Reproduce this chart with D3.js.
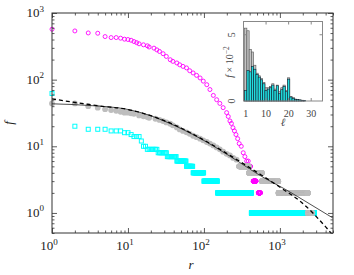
<!DOCTYPE html>
<html><head><meta charset="utf-8">
<script src="https://cdn.jsdelivr.net/npm/d3@7/dist/d3.min.js"></script>
<style>body{margin:0;background:#fff;}svg{display:block;}</style>
</head><body>
<svg id="c" width="354" height="275"></svg>
<script>
// ---------- DATA ----------
// magenta (open circles): individual ranks
const magentaR = [1,2,3,4,5,6,7,8,9,10,11,12,13,14,16,18,19,22,24,26,29,32,36,39,44,48,53,59,65,72,80,89,98,109,120,133,147,162,179,199,209,220,230,241,252,264,278,291,310,329,346,365,383];
const magentaF = [571,538,502,497,443,428,428,419,405,400,390,373,359,345,333,322,309,297,280,265,245,223,199,188,178,167,158,150,136,126,116,106,95,84,71,58,50,44,38,32,28,24,22,19,17,15,13,11,10,8,7,6,6];
// magenta plateaus (same f over a range of ranks)
const magentaPlatF = [5,4,3,2];
const magentaPlatFrom = [390,410,445,520];
const magentaPlatTo = [408,440,485,555];

// gray (filled circles)
const grayR = [1,2,3,4,5,6,7,8,9,10,11,12,14,16,18,19,23,26,29,32,36,39,44,48,53,59,65,72,80,89,98,109,120,133,147,162,179,199,220,243,269];
const grayF = [44,44,40,38,36,35,34,33,32,32,31.3,30.8,29.0,28.2,27.4,26.8,25.9,24.9,23.9,22.8,21.8,20.6,19.2,17.9,17.0,16.2,15.4,14.4,13.7,13.0,12.3,11.6,11.0,10.3,9.6,9.0,8.3,7.7,7.3,6.7,6.3];
const grayPlatF = [5,4,3,2,1];
const grayPlatFrom = [290,391,580,960,2340];
const grayPlatTo = [390,579,950,2330,2640];

// cyan (open squares)
const cyanR = [1,2,3,4,5,6,7,8,9,10,11,12,13,14,15];
const cyanF = [62,20,18,18,18,17,17,17,16,16,15,14,14,14,12];
const cyanPlatF = [10,9,8,7,6,5,4,3,2,1];
const cyanPlatFrom = [16,18,25,33,44,59,72,100,151,421];
const cyanPlatTo = [17,24,32,43,58,71,99,150,420,2800];

// fitted curves
const solidR = [1,3.16,10,19.5,35.7,88.5,220,598,1163,2482,4980];
const solidF = [43.4,40.9,35.7,29.0,22.0,13.2,7.1,3.44,2.28,1.36,0.84];
const dashedR = [1,2.01,4.28,10,19.5,35.7,88.5,220,545,1163,1833,2716,3360,4153,4980];
const dashedF = [51.5,45.4,40.2,35.7,29.0,22.4,13.4,7.3,3.82,2.17,1.51,1.0,0.77,0.59,0.46];

// inset histogram
const ell = [1,2,3,4,5,6,7,8,9,10,11,12,13,14,15,16,17,18,19,20,21,22,23,24,25,26,27];
const histGray = [5.5,5.3,3.9,3.7,2.7,2.1,1.9,1.7,1.4,1.0,1.0,1.1,1.3,0.9,1.2,0.7,1.0,1.2,0.8,1.75,0.35,0.25,0.15,0.1,0.08,0.06,0.05];
const histCyan = [0.8,2.3,2.2,2.6,2.4,2.0,1.8,1.6,1.3,0.8,0.9,1.0,1.2,0.8,1.15,0.55,0.85,1.1,0.7,1.65,0.3,0.2,0.12,0.1,0.08,0.05,0.05];

// ticks
const xMajor = [1,10,100,1000];
const yMajor = [1,10,100,1000];
const insetXTicks = [1,10,20,30];
const insetYTicks = [0,5];

// ---------- CHART ----------
const svg = d3.select('#c');
const L=52, R=333, T=13, B=233;
const x = d3.scaleLog().domain([1,5000]).range([L,R]);
const y = d3.scaleLog().domain([0.5,1000]).range([B,T]);
const serif = '"Liberation Serif","DejaVu Serif",serif';

svg.append('defs').append('clipPath').attr('id','clip')
  .append('rect').attr('x',L).attr('y',T).attr('width',R-L).attr('height',B-T);

const plot = svg.append('g');
const linesG = svg.append('g').attr('clip-path','url(#clip)');

function expand(fs, from, to){
  const out=[];
  fs.forEach((f,i)=>{ for(let r=from[i]; r<=to[i]; r++) out.push([r,f]); });
  return out;
}
const cyanPts = cyanR.map((r,i)=>[r,cyanF[i]]).concat(expand(cyanPlatF,cyanPlatFrom,cyanPlatTo));
const magPts = magentaR.map((r,i)=>[r,magentaF[i]]).concat(expand(magentaPlatF,magentaPlatFrom,magentaPlatTo));
const grayPts = grayR.map((r,i)=>[r,grayF[i]]).concat(expand(grayPlatF,grayPlatFrom,grayPlatTo));

const sq = 4;
plot.append('g').selectAll('rect').data(cyanPts).join('rect')
  .attr('x',d=>x(d[0])-sq/2).attr('y',d=>y(d[1])-sq/2)
  .attr('width',sq).attr('height',sq)
  .attr('fill','none').attr('stroke','#00ffff').attr('stroke-width',1);

plot.append('g').selectAll('circle').data(magPts).join('circle')
  .attr('cx',d=>x(d[0])).attr('cy',d=>y(d[1])).attr('r',2)
  .attr('fill','none').attr('stroke','#ff00ff').attr('stroke-width',0.9);

plot.append('g').selectAll('circle').data(grayPts).join('circle')
  .attr('cx',d=>x(d[0])).attr('cy',d=>y(d[1])).attr('r',2.9)
  .attr('fill','#bdbdbd');

const line = d3.line().x(d=>x(d[0])).y(d=>y(d[1])).curve(d3.curveMonotoneX);
linesG.append('path').attr('d',line(solidR.map((r,i)=>[r,solidF[i]])))
  .attr('fill','none').attr('stroke','#222').attr('stroke-width',0.8);
linesG.append('path').attr('d',line(dashedR.map((r,i)=>[r,dashedF[i]])))
  .attr('fill','none').attr('stroke','#000').attr('stroke-width',1.3).attr('stroke-dasharray','4,3');

// axes (ticks inward on all four sides)
function minorLog(dom){
  const out=[]; const lo=Math.floor(Math.log10(dom[0])), hi=Math.ceil(Math.log10(dom[1]));
  for(let k=lo;k<=hi;k++) for(let m=2;m<=9;m++){const v=m*Math.pow(10,k); if(v>=dom[0]&&v<=dom[1]) out.push(v);}
  return out;
}
const xMinor = minorLog(x.domain()), yMinor = minorLog(y.domain());
const axisCol = '#333';
function styleAxis(g){ g.selectAll('path').remove(); g.selectAll('line').attr('stroke',axisCol).attr('stroke-width',0.8); g.selectAll('text').remove(); }
svg.append('g').attr('transform',`translate(0,${B})`).call(d3.axisBottom(x).tickValues(xMajor).tickSize(-5)).call(styleAxis);
svg.append('g').attr('transform',`translate(0,${B})`).call(d3.axisBottom(x).tickValues(xMinor).tickSize(-2.5)).call(styleAxis);
svg.append('g').attr('transform',`translate(0,${T})`).call(d3.axisTop(x).tickValues(xMajor).tickSize(-5)).call(styleAxis);
svg.append('g').attr('transform',`translate(0,${T})`).call(d3.axisTop(x).tickValues(xMinor).tickSize(-2.5)).call(styleAxis);
svg.append('g').attr('transform',`translate(${L},0)`).call(d3.axisLeft(y).tickValues(yMajor).tickSize(-5)).call(styleAxis);
svg.append('g').attr('transform',`translate(${L},0)`).call(d3.axisLeft(y).tickValues(yMinor).tickSize(-2.5)).call(styleAxis);
svg.append('g').attr('transform',`translate(${R},0)`).call(d3.axisRight(y).tickValues(yMajor).tickSize(-5)).call(styleAxis);
svg.append('g').attr('transform',`translate(${R},0)`).call(d3.axisRight(y).tickValues(yMinor).tickSize(-2.5)).call(styleAxis);

svg.append('rect').attr('x',L).attr('y',T).attr('width',R-L).attr('height',B-T)
  .attr('fill','none').attr('stroke',axisCol).attr('stroke-width',1);

// tick labels 10^k
function powLabel(sel, v){
  sel.append('tspan').text('10');
  sel.append('tspan').attr('dy',-5.5).attr('font-size',9).text(Math.round(Math.log10(v)));
}
xMajor.forEach(v=>{
  const t = svg.append('text').attr('x',x(v)-3).attr('y',250).attr('text-anchor','middle')
    .attr('font-family',serif).attr('font-size',13).attr('fill','#222');
  powLabel(t,v);
});
yMajor.forEach(v=>{
  const t = svg.append('text').attr('x',44).attr('y',y(v)+4).attr('text-anchor','end')
    .attr('font-family',serif).attr('font-size',13).attr('fill','#222');
  powLabel(t,v);
});
svg.append('text').attr('x',191).attr('y',269).attr('text-anchor','middle')
  .attr('font-family',serif).attr('font-style','italic').attr('font-size',13).attr('fill','#222').text('r');
svg.append('text').attr('transform',`translate(13,${(T+B)/2}) rotate(-90)`).attr('text-anchor','middle')
  .attr('font-family',serif).attr('font-style','italic').attr('font-size',13).attr('fill','#222').text('f');

// ---------- INSET ----------
const IL=243.5, IR=322.5, IT=21.5, IB=101;
const ix = d3.scaleLinear().domain([0,35]).range([IL,IR]);
const iy = d3.scaleLinear().domain([0,6]).range([IB,IT]);
const inset = svg.append('g');
inset.append('rect').attr('x',IL).attr('y',IT).attr('width',IR-IL).attr('height',IB-IT).attr('fill','#fff');
const bw = ix(1)-ix(0);
inset.append('g').selectAll('rect').data(ell.map((l,i)=>[l,histGray[i]])).join('rect')
  .attr('x',d=>ix(d[0]-0.5)).attr('width',bw).attr('y',d=>iy(d[1])).attr('height',d=>IB-iy(d[1]))
  .attr('fill','#c4c4c4').attr('stroke','#555').attr('stroke-width',0.6);
inset.append('g').selectAll('rect').data(ell.map((l,i)=>[l,histCyan[i]])).join('rect')
  .attr('x',d=>ix(d[0]-0.5)).attr('width',bw).attr('y',d=>iy(d[1])).attr('height',d=>IB-iy(d[1]))
  .attr('fill','#22dede').attr('stroke','#123').attr('stroke-width',0.6);
const icol = '#888';
[10,20,30].forEach(v=>{
  inset.append('line').attr('x1',ix(v)).attr('x2',ix(v)).attr('y1',IT).attr('y2',IT+3).attr('stroke',icol);
  inset.append('line').attr('x1',ix(v)).attr('x2',ix(v)).attr('y1',IB).attr('y2',IB-3).attr('stroke',icol);
});
[5].forEach(v=>{
  inset.append('line').attr('x1',IL).attr('x2',IL+3).attr('y1',iy(v)).attr('y2',iy(v)).attr('stroke',icol);
  inset.append('line').attr('x1',IR).attr('x2',IR-3).attr('y1',iy(v)).attr('y2',iy(v)).attr('stroke',icol);
});
inset.append('rect').attr('x',IL).attr('y',IT).attr('width',IR-IL).attr('height',IB-IT)
  .attr('fill','none').attr('stroke',icol).attr('stroke-width',1);
insetXTicks.forEach(v=>{
  inset.append('text').attr('x',ix(v)).attr('y',117).attr('text-anchor','middle')
    .attr('font-family',serif).attr('font-size',10).attr('fill','#444').text(v);
});
insetYTicks.forEach(v=>{
  inset.append('text').attr('transform',`translate(235,${iy(v)}) rotate(-90)`).attr('text-anchor','middle')
    .attr('font-family',serif).attr('font-size',10).attr('fill','#444').text(v);
});
const yl = inset.append('text').attr('transform',`translate(233,62) rotate(-90)`).attr('text-anchor','middle')
  .attr('font-family',serif).attr('font-size',10).attr('fill','#444');
yl.append('tspan').attr('font-style','italic').text('f');
yl.append('tspan').text(' × 10');
yl.append('tspan').attr('dy',-4).attr('font-size',7.5).text('−2');
inset.append('text').attr('x',283).attr('y',126).attr('text-anchor','middle')
  .attr('font-family',serif).attr('font-style','italic').attr('font-size',11).attr('fill','#444').text('ℓ');
</script>
</body></html>
